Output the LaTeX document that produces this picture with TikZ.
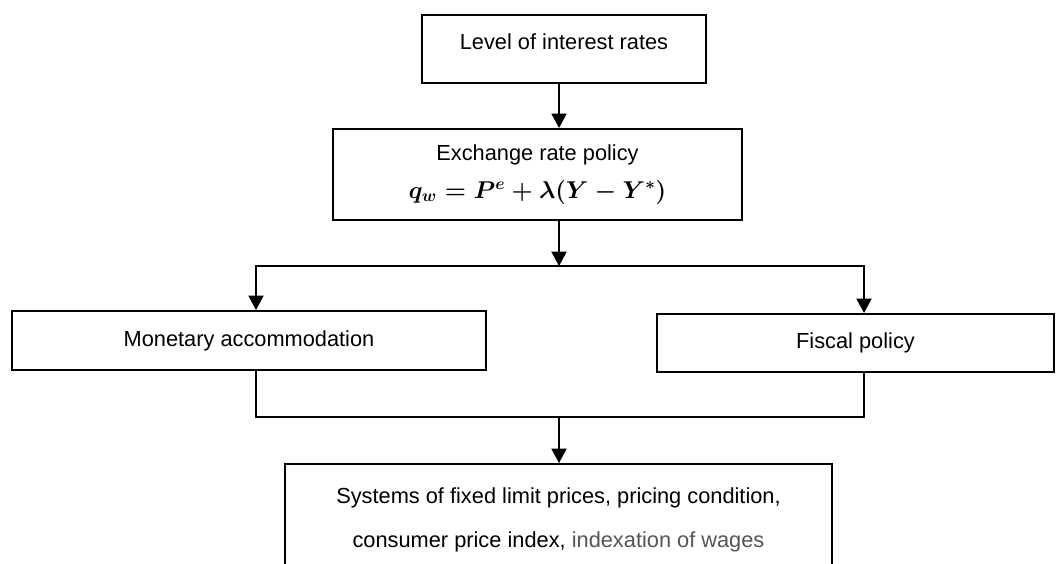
\documentclass[tikz,border=0pt]{standalone}
\usepackage{amsmath,amssymb}
\usepackage{fontspec}
\setmainfont{Liberation Sans}
\usepackage{tikz}
\usetikzlibrary{arrows.meta}
\usepackage{xcolor}
\definecolor{wagegray}{RGB}{85,85,85}

\begin{document}
\begin{tikzpicture}[
  box/.style={draw, line width=1.5pt, inner sep=0pt, align=center},
  link/.style={line width=0.9pt},
  >={Triangle[length=0.36cm,width=0.38cm]},
  font=\fontsize{15.5}{18}\selectfont]
  \clip (0,0) rectangle (26.425,-14.075);
  \node[box, minimum width=7.1cm, text height=0.85cm, text depth=0.85cm] (level) at (14.1,-1.225) {Level of interest rates};
  \node[box, minimum width=10.225cm, minimum height=2.275cm] (exch) at (13.4375,-4.3625)
    {Exchange rate policy\\[0.3cm]{\fontsize{16.5}{20}\selectfont\boldmath$q_w = P^e + \lambda(Y - Y^{*})$}};
  \node[box, minimum width=11.85cm, minimum height=1.475cm] (money) at (6.225,-8.5125) {Monetary accommodation};
  \node[box, minimum width=9.925cm, minimum height=1.45cm] (fiscal) at (21.3875,-8.575) {Fiscal policy};
  \node[box, minimum width=13.675cm, anchor=north, inner ysep=0.6cm] (prices) at (13.9625,-11.575)
    {Systems of fixed limit prices, pricing condition,\\[0.46cm]consumer price index, \textcolor{wagegray}{indexation of wages}};
  \coordinate (axis) at (13.975,0);
  \coordinate (split) at (13.975,-6.65);
  \coordinate (lfork) at (6.4,-6.65);
  \coordinate (rfork) at (21.6,-6.65);
  \coordinate (merge) at (13.975,-10.425);
  \draw[link,->] (level.south -| axis) -- (exch.north -| axis);
  \draw[link,->] (exch.south -| split) -- (split);
  \draw[link,->] (split) -| (money.north -| lfork);
  \draw[link,->] (split) -| (fiscal.north -| rfork);
  \draw[link] (money.south -| lfork) |- (merge) -| (fiscal.south -| rfork);
  \draw[link,->] (merge) -- (prices.north -| merge);
\end{tikzpicture}
\end{document}
